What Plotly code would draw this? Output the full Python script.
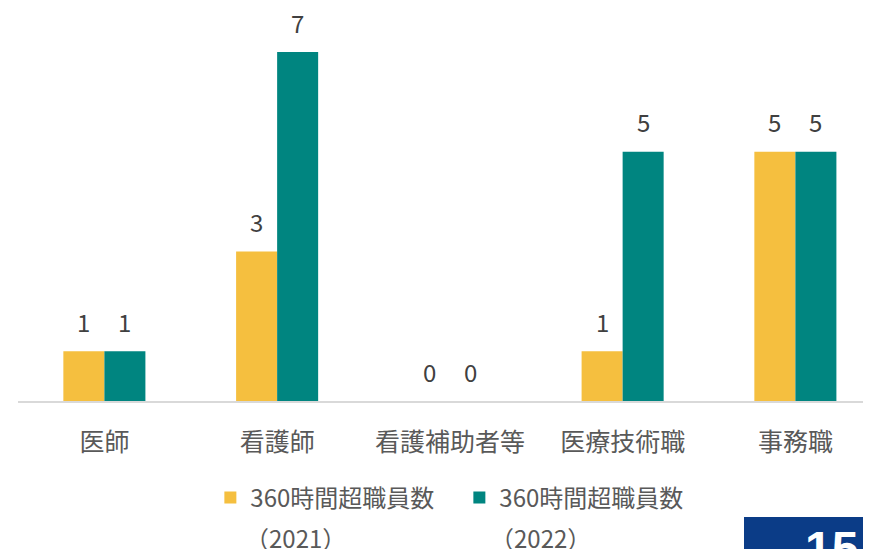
import plotly.graph_objects as go

# ---------------------------------------------------------------------------
# Data
# ---------------------------------------------------------------------------
categories = ["医師", "看護師", "看護補助者等", "医療技術職", "事務職"]
values_2021 = [1, 3, 0, 1, 5]
values_2022 = [1, 7, 0, 5, 5]
series_names = ["360時間超職員数", "360時間超職員数"]
series_years = ["（2021）", "（2022）"]
page_number = "15"

COLOR_2021 = "#F5BF3F"
COLOR_2022 = "#008580"
FONT = "Noto Sans CJK JP"
TEXT_GRAY = "#595959"
LABEL_GRAY = "#404040"

# figure geometry (page offset of 8px from the body margin)
W, H = 863, 541
ML, MB = 10, 148
PW, PH = W - ML, H - MB


def px_x(page_x):
    return (page_x - 8 - ML) / PW


def px_y(page_y):
    return (PH - (page_y - 8)) / PH


fig = go.Figure()
fig.add_trace(go.Bar(
    x=categories, y=values_2021, name=series_names[0],
    marker=dict(color=COLOR_2021, line=dict(width=0)),
))
fig.add_trace(go.Bar(
    x=categories, y=values_2022, name=series_names[1],
    marker=dict(color=COLOR_2022, line=dict(width=0)),
))

# data labels above each bar
for vals, shift in ((values_2021, -20.5), (values_2022, 20.5)):
    for cat, v in zip(categories, vals):
        fig.add_annotation(
            x=cat, y=v, text=str(v), showarrow=False,
            xshift=shift, yshift=30, yanchor="middle",
            font=dict(family=FONT, size=24, color=LABEL_GRAY),
        )

# second line of the legend labels
for xpx, year in zip((243, 488), series_years):
    fig.add_annotation(
        xref="paper", yref="paper", x=px_x(xpx), y=px_y(537),
        text=year, showarrow=False, xanchor="left", yanchor="middle",
        font=dict(family=FONT, size=24, color=TEXT_GRAY),
    )

# page number box
fig.add_shape(
    type="rect", xref="paper", yref="paper",
    x0=px_x(744), x1=1.05, y0=px_y(517), y1=px_y(600),
    fillcolor="#0B3C87", line=dict(width=0), layer="above",
)
fig.add_annotation(
    xref="paper", yref="paper", x=px_x(831), y=px_y(520),
    text="<b>" + page_number + "</b>", showarrow=False,
    xanchor="center", yanchor="top",
    font=dict(family="Liberation Sans", size=48, color="white"),
)

fig.update_layout(
    width=W, height=H,
    margin=dict(l=ML, r=0, t=0, b=MB),
    paper_bgcolor="white", plot_bgcolor="white",
    barmode="group", bargap=0.525, bargroupgap=0,
    font=dict(family=FONT, size=24, color=TEXT_GRAY),
    showlegend=True,
    legend=dict(
        orientation="h", x=px_x(227) - 0.0195, xanchor="left",
        y=px_y(498), yanchor="middle",
        font=dict(family=FONT, size=24, color=TEXT_GRAY),
        entrywidth=204, traceorder="normal",
    ),
    xaxis=dict(
        range=[-0.5, -0.5 + PW / 172.75], showgrid=False, zeroline=False,
        showline=True, linecolor="#D9D9D9", linewidth=2,
        ticks="", ticklabelstandoff=18,
        tickfont=dict(family=FONT, size=25, color=TEXT_GRAY),
    ),
    yaxis=dict(
        range=[0, PH / 49.85], showgrid=False, zeroline=False,
        showticklabels=False, showline=False,
    ),
)

fig.write_html("out.html")
